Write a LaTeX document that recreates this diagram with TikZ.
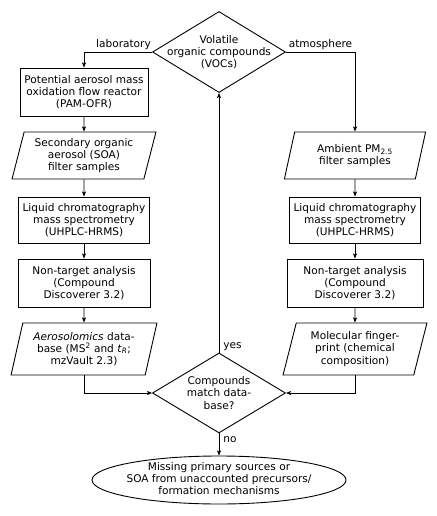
\documentclass[tikz,border=0pt]{standalone}
\usepackage{fontspec}
\setmainfont{DejaVu Sans}
\usetikzlibrary{shapes.geometric,arrows.meta}
\begin{document}
\begin{tikzpicture}[x=1bp,y=-1bp,
  every node/.style={font=\fontsize{10.6}{12.3}\selectfont, align=center},
  base/.style={draw, line width=0.9bp, inner sep=0pt},
  procbox/.style={base, rectangle},
  iobox/.style={base, trapezium, trapezium left angle=74, trapezium right angle=106, trapezium stretches=true},
  decision/.style={base, diamond, minimum width=133bp, minimum height=81bp},
  arr/.style={line width=0.9bp, -{Stealth[length=5bp,width=4bp,inset=1bp]}},
  lbl/.style={inner sep=1.5bp}
]
\useasboundingbox (0,0) rectangle (437,516);

% top decision
\node[decision, label={center:{Volatile\\organic compounds\\(VOCs)}}] (voc) at (219,52) {};

% left column
\node[procbox, minimum width=128bp, minimum height=48bp] (pam) at (84,92) {Potential aerosol mass\\oxidation flow reactor\\(PAM-OFR)};
\node[iobox, minimum width=144bp, minimum height=47bp] (soa) at (84,155.5) {Secondary organic\\aerosol (SOA)\\filter samples};
\node[procbox, minimum width=131bp, minimum height=46bp] (lcL) at (84,220) {Liquid chromatography\\mass spectrometry\\(UHPLC-HRMS)};
\node[procbox, minimum width=132bp, minimum height=48bp] (ntL) at (84,283) {Non-target analysis\\(Compound\\Discoverer 3.2)};
\node[iobox, minimum width=146bp, minimum height=52bp] (db) at (84,349) {\textit{Aerosolomics} data-\\base (MS\textsuperscript{2} and \textit{t}\textsubscript{\textit{R}};\\mzVault 2.3)};

% right column
\node[iobox, minimum width=142bp, minimum height=47bp] (pm) at (355,155.5) {Ambient PM\textsubscript{2.5}\\filter samples};
\node[procbox, minimum width=131bp, minimum height=46bp] (lcR) at (355,220) {Liquid chromatography\\mass spectrometry\\(UHPLC-HRMS)};
\node[procbox, minimum width=136bp, minimum height=48bp] (ntR) at (355,283) {Non-target analysis\\(Compound\\Discoverer 3.2)};
\node[iobox, minimum width=144bp, minimum height=52bp] (fp) at (355,349) {Molecular finger-\\print (chemical\\composition)};

% bottom decision
\node[decision, minimum height=80bp, label={center:{Compounds\\match data-\\base?}}] (match) at (219,393) {};

% result
\node[base, ellipse, minimum width=254bp, minimum height=48bp, label={[yshift=1.5bp]center:{Missing primary sources or\\SOA from unaccounted precursors/\\formation mechanisms}}] (miss) at (219,480) {};

% connectors
\draw[arr] (voc.west) -| node[pos=0.21, above, lbl] {laboratory} (pam.north);
\draw[arr] (voc.east) -| node[pos=0.25, above, lbl] {atmosphere} (pm.north);
\draw[arr] (pam.south) -- (soa.north);
\draw[arr] (soa.south) -- (lcL.north);
\draw[arr] (lcL.south) -- (ntL.north);
\draw[arr] (ntL.south) -- (db.north);
\draw[arr] (pm.south) -- (lcR.north);
\draw[arr] (lcR.south) -- (ntR.north);
\draw[arr] (ntR.south) -- (fp.north);
\draw[arr] (db.south) |- (match.west);
\draw[arr] (fp.south) |- (match.east);
\draw[arr] (match.north) -- node[pos=0, anchor=base west, inner sep=0pt, xshift=4bp, yshift=4bp] {yes} (voc.south);
\draw[arr] (match.south) -- node[pos=0, anchor=base west, inner sep=0pt, xshift=4bp, yshift=-9bp] {no} (miss.north);
\end{tikzpicture}
\end{document}
